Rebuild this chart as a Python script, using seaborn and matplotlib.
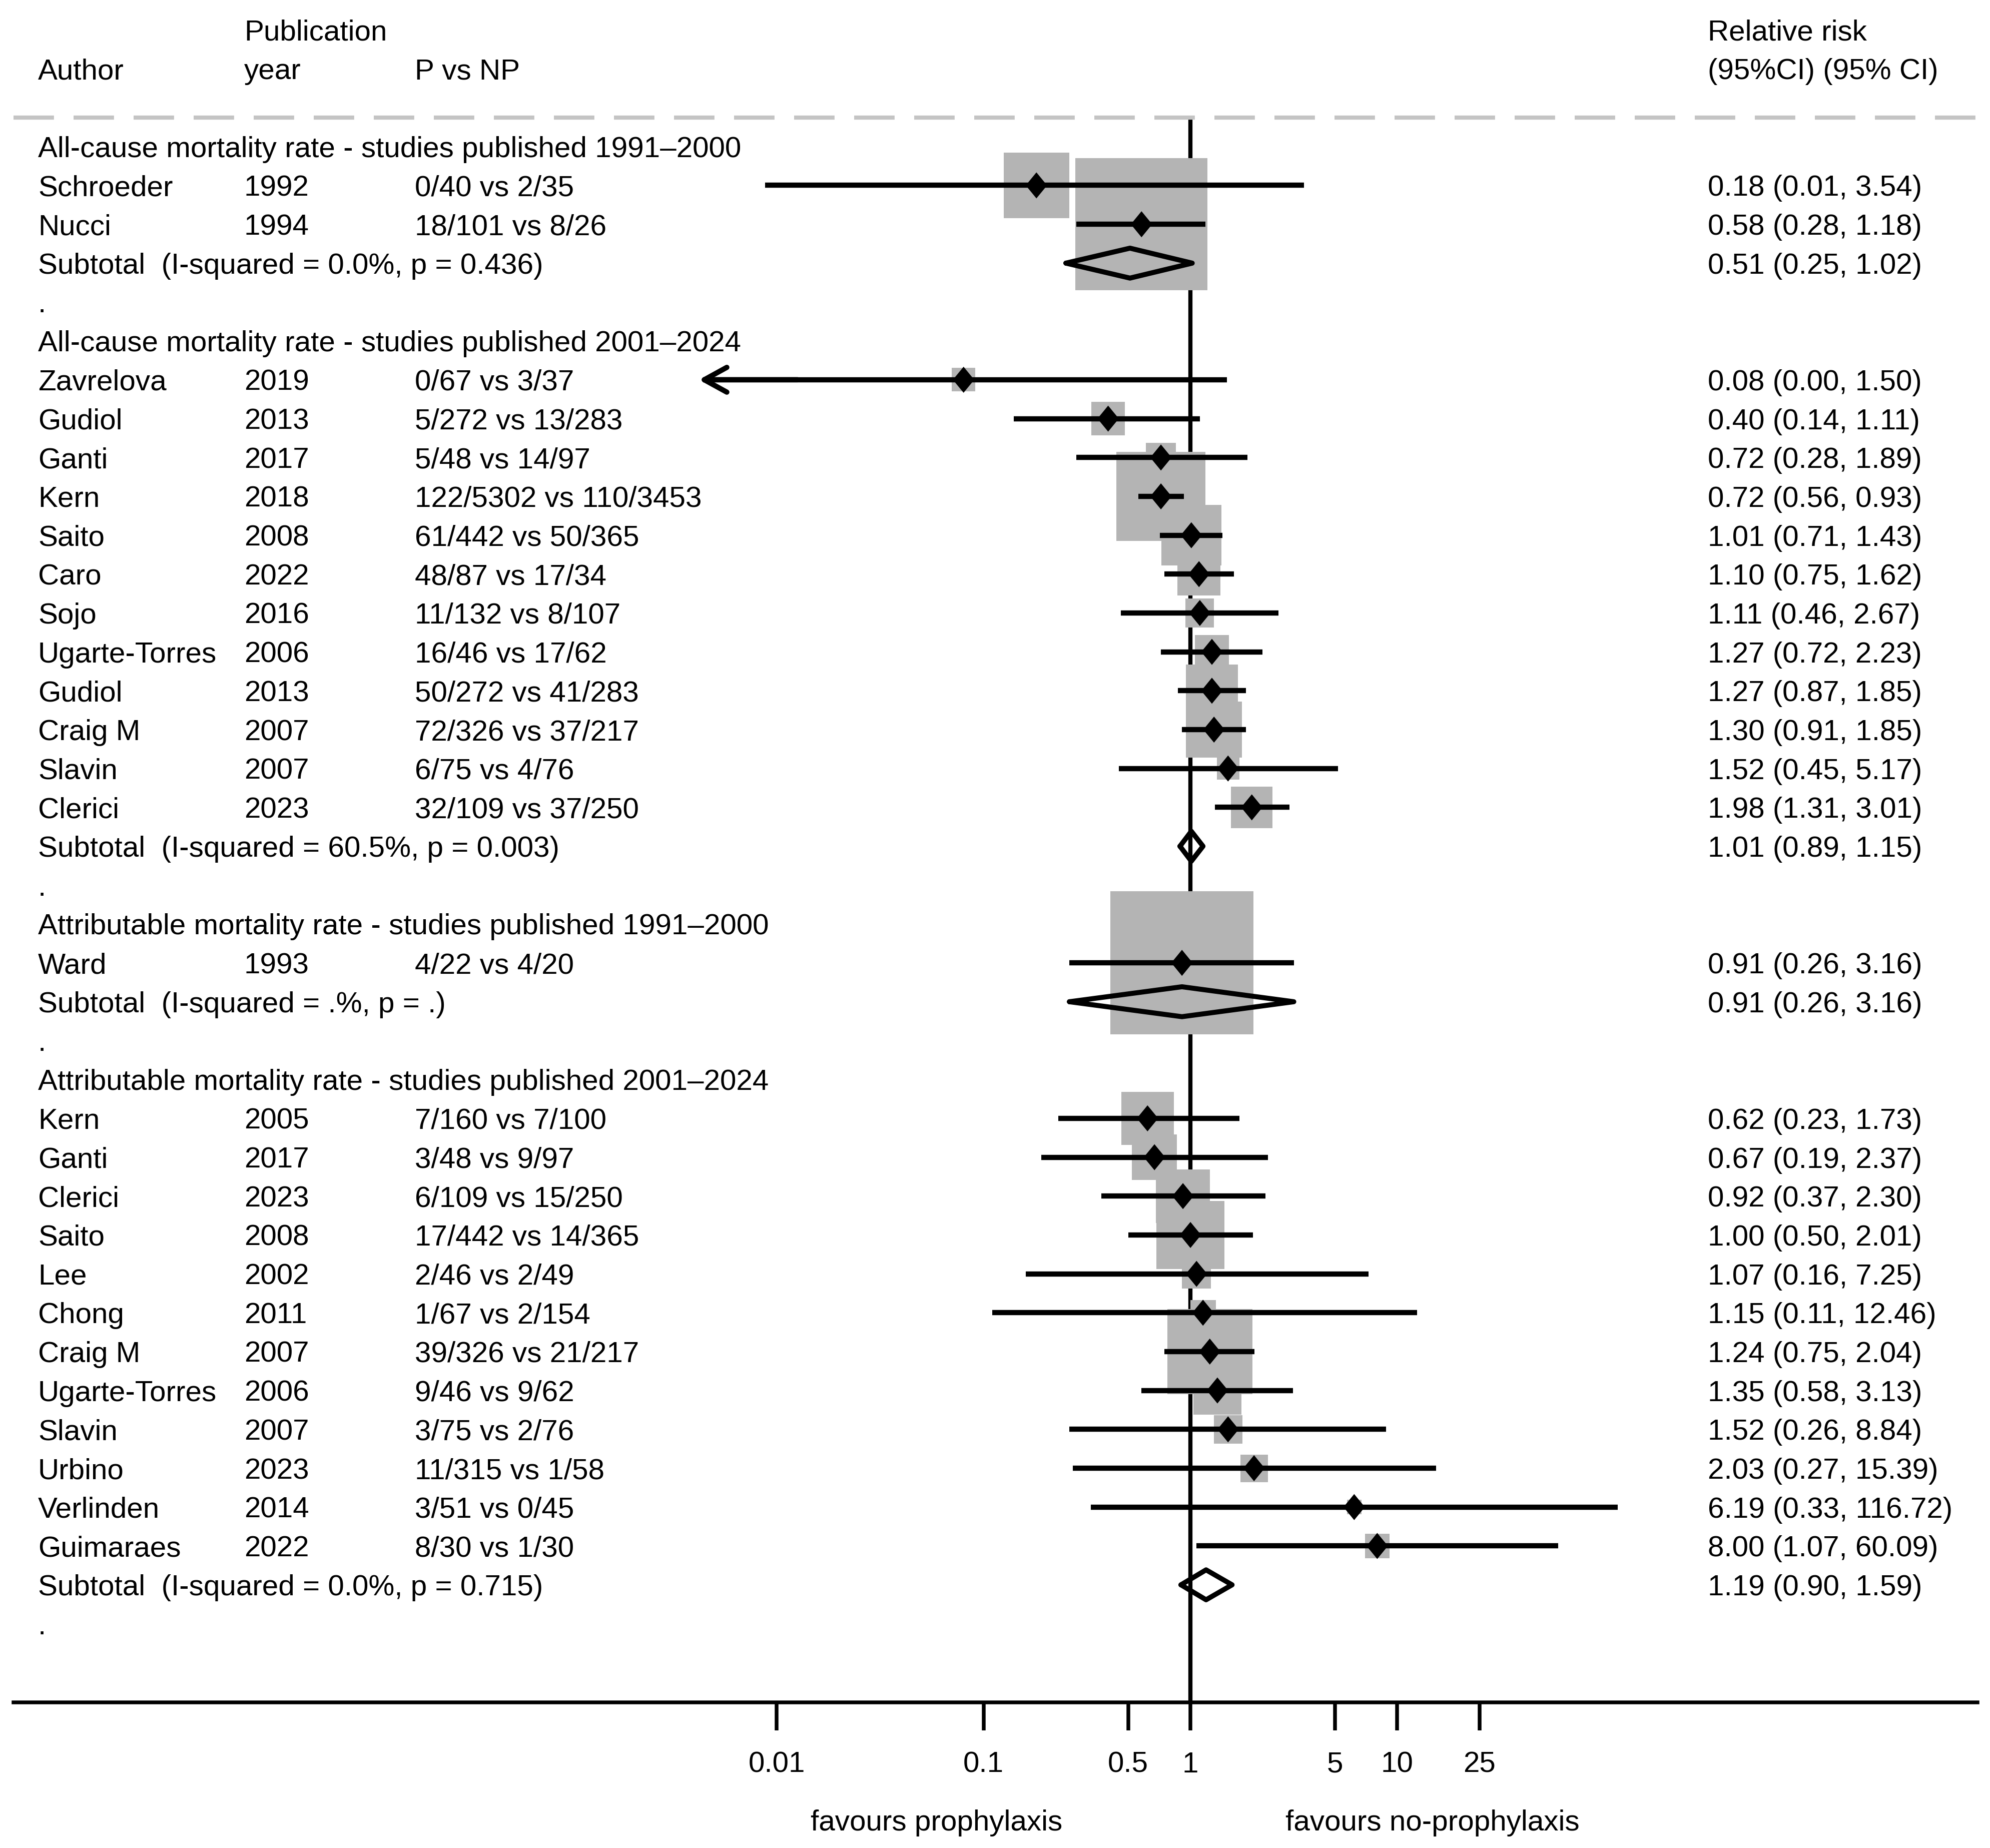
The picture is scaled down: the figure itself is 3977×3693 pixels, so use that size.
import numpy as np
import pandas as pd
import matplotlib
matplotlib.use("Agg")
import matplotlib.pyplot as plt
import seaborn as sns
from matplotlib.transforms import blended_transform_factory
from matplotlib.ticker import NullLocator

# ---------------- data ----------------
group_titles = [
    "All-cause mortality rate - studies published 1991\u20132000",
    "All-cause mortality rate - studies published 2001\u20132024",
    "Attributable mortality rate - studies published 1991\u20132000",
    "Attributable mortality rate - studies published 2001\u20132024",
]

study_group = [0, 0,
               1, 1, 1, 1, 1, 1, 1, 1, 1, 1, 1, 1,
               2,
               3, 3, 3, 3, 3, 3, 3, 3, 3, 3, 3, 3]
authors = ["Schroeder", "Nucci",
           "Zavrelova", "Gudiol", "Ganti", "Kern", "Saito", "Caro", "Sojo",
           "Ugarte-Torres", "Gudiol", "Craig M", "Slavin", "Clerici",
           "Ward",
           "Kern", "Ganti", "Clerici", "Saito", "Lee", "Chong", "Craig M",
           "Ugarte-Torres", "Slavin", "Urbino", "Verlinden", "Guimaraes"]
years = ["1992", "1994",
         "2019", "2013", "2017", "2018", "2008", "2022", "2016", "2006",
         "2013", "2007", "2007", "2023",
         "1993",
         "2005", "2017", "2023", "2008", "2002", "2011", "2007", "2006",
         "2007", "2023", "2014", "2022"]
events = ["0/40 vs 2/35", "18/101 vs 8/26",
          "0/67 vs 3/37", "5/272 vs 13/283", "5/48 vs 14/97",
          "122/5302 vs 110/3453", "61/442 vs 50/365", "48/87 vs 17/34",
          "11/132 vs 8/107", "16/46 vs 17/62", "50/272 vs 41/283",
          "72/326 vs 37/217", "6/75 vs 4/76", "32/109 vs 37/250",
          "4/22 vs 4/20",
          "7/160 vs 7/100", "3/48 vs 9/97", "6/109 vs 15/250",
          "17/442 vs 14/365", "2/46 vs 2/49", "1/67 vs 2/154",
          "39/326 vs 21/217", "9/46 vs 9/62", "3/75 vs 2/76",
          "11/315 vs 1/58", "3/51 vs 0/45", "8/30 vs 1/30"]
rr = [0.18, 0.58,
      0.08, 0.40, 0.72, 0.72, 1.01, 1.10, 1.11, 1.27, 1.27, 1.30, 1.52, 1.98,
      0.91,
      0.62, 0.67, 0.92, 1.00, 1.07, 1.15, 1.24, 1.35, 1.52, 2.03, 6.19, 8.00]
ci_lo = [0.0088, 0.28,
         0.00, 0.14, 0.28, 0.56, 0.71, 0.75, 0.46, 0.72, 0.87, 0.91, 0.45, 1.31,
         0.26,
         0.23, 0.19, 0.37, 0.50, 0.16, 0.11, 0.75, 0.58, 0.26, 0.27, 0.33, 1.07]
ci_hi = [3.54, 1.18,
         1.50, 1.11, 1.89, 0.93, 1.43, 1.62, 2.67, 2.23, 1.85, 1.85, 5.17, 3.01,
         3.16,
         1.73, 2.37, 2.30, 2.01, 7.25, 12.46, 2.04, 3.13, 8.84, 15.39, 116.72, 60.09]
weights = [21.0, 85.0,
           2.7, 5.5, 4.3, 38.5, 17.7, 9.1, 4.0, 5.7, 13.3, 15.2, 2.5, 8.5,
           100.0,
           13.6, 10.0, 14.1, 22.4, 4.1, 3.2, 35.4, 11.3, 4.0, 3.7, 1.0, 3.0]

subtotal_labels = ["Subtotal  (I-squared = 0.0%, p = 0.436)",
                   "Subtotal  (I-squared = 60.5%, p = 0.003)",
                   "Subtotal  (I-squared = .%, p = .)",
                   "Subtotal  (I-squared = 0.0%, p = 0.715)"]
subtotal_rr = [0.51, 1.01, 0.91, 1.19]
subtotal_lo = [0.25, 0.89, 0.26, 0.90]
subtotal_hi = [1.02, 1.15, 3.16, 1.59]

tick_values = [0.01, 0.1, 0.5, 1, 5, 10, 25]
tick_labels = ["0.01", "0.1", "0.5", "1", "5", "10", "25"]
left_note = "favours prophylaxis"
right_note = "favours no-prophylaxis"
x_clip_low = 0.0042  # lower end of the plotted range (arrow drawn beyond)

# ---------------- layout of rows ----------------
study_rows, sub_rows, head_rows, dot_rows = [], [], [], []
r = 0
for g in range(len(group_titles)):
    head_rows.append(r)
    r += 1
    for i, sg in enumerate(study_group):
        if sg == g:
            study_rows.append(r)
            r += 1
    sub_rows.append(r)
    r += 1
    dot_rows.append(r)
    r += 1

df = pd.DataFrame({"row": study_rows, "author": authors, "year": years,
                   "events": events, "rr": rr, "lo": ci_lo, "hi": ci_hi,
                   "weight": weights})
sub = pd.DataFrame({"row": sub_rows, "label": subtotal_labels, "rr": subtotal_rr,
                    "lo": subtotal_lo, "hi": subtotal_hi})

# ---------------- figure ----------------
sns.set_theme(style="white")
plt.rcParams["font.family"] = ["Liberation Sans", "DejaVu Sans"]
plt.rcParams["font.size"] = 14
FS = 14

fig = plt.figure(figsize=(3977 / 300, 3693 / 300), dpi=300)
ax = fig.add_axes([0, 0, 1, 1])

BOX_SCALE = (286 * 0.24) ** 2 / 100.0
sns.scatterplot(data=df, x="rr", y="row", marker="s",
                s=(df["weight"] * BOX_SCALE).to_numpy(),
                color="#b4b4b4", edgecolor="none", linewidth=0,
                zorder=2, legend=False, ax=ax)
diamond = [(0, 1), (0.82, 0), (0, -1), (-0.82, 0), (0, 1)]
sns.scatterplot(data=df, x="rr", y="row", marker=diamond, s=156,
                color="black", edgecolor="none", linewidth=0,
                zorder=4, legend=False, ax=ax)

ax.set_xscale("log")
XMIN_LOG, XMAX_LOG = -5.756, 3.866
ax.set_xlim(10 ** XMIN_LOG, 10 ** XMAX_LOG)
ax.set_ylim(43.77, -3.769)
ax.set_xlabel("")
ax.set_ylabel("")

AXIS_Y = 40.03
DASH_Y = -0.75
line_left, line_right = 10 ** -5.691, 10 ** 3.806

# reference line at 1
ax.vlines(1, DASH_Y, AXIS_Y, colors="black", linewidth=2.0, zorder=1)
# dashed separator
ax.plot([line_left, line_right], [DASH_Y, DASH_Y], color="#c4c4c4",
        linewidth=2.0, dashes=[9.7, 4.7], zorder=1, solid_capstyle="butt",
        dash_capstyle="butt")

# confidence intervals
for _, d in df.iterrows():
    lo = d["lo"]
    if lo < x_clip_low:
        ax.hlines(d["row"], x_clip_low * 1.05, d["hi"], colors="black",
                  linewidth=2.5, zorder=3)
        ax.annotate("", xy=(x_clip_low, d["row"]), xytext=(x_clip_low * 3, d["row"]),
                    arrowprops=dict(arrowstyle="->,head_length=0.4,head_width=0.22",
                                    lw=2.5, color="black", mutation_scale=27,
                                    shrinkA=0, shrinkB=0), zorder=3)
    else:
        ax.hlines(d["row"], lo, d["hi"], colors="black", linewidth=2.5, zorder=3)

# subtotal diamonds
H = 0.385
for _, s in sub.iterrows():
    xs = [s["lo"], s["rr"], s["hi"], s["rr"], s["lo"]]
    ys = [s["row"], s["row"] - H, s["row"], s["row"] + H, s["row"]]
    ax.plot(xs, ys, color="black", linewidth=2.4, zorder=4,
            solid_joinstyle="round")

# axis
for sp in ["top", "left", "right"]:
    ax.spines[sp].set_visible(False)
ax.spines["bottom"].set_position(("data", AXIS_Y))
ax.spines["bottom"].set_bounds(line_left, line_right)
ax.spines["bottom"].set_linewidth(1.8)
ax.spines["bottom"].set_color("black")
ax.set_xticks(tick_values)
ax.set_xticklabels(tick_labels)
ax.xaxis.set_minor_locator(NullLocator())
ax.tick_params(axis="x", which="major", bottom=True, direction="out",
               length=13.4, width=1.8, pad=10, labelsize=FS, colors="black")
ax.set_yticks([])
ax.grid(False)

# ---------------- text ----------------
tr = blended_transform_factory(ax.transAxes, ax.transData)
X_AUTH, X_YEAR, X_EV, X_RR = 0.0191, 0.1227, 0.2084, 0.8582
BL = 0.27  # baseline offset so caps are centred on the row


def put(x, row, s, **kw):
    ax.text(x, row + BL, s, transform=tr, ha="left", va="baseline",
            fontsize=FS, color="black", **kw)


put(X_YEAR, -3, "Publication")
put(X_RR, -3, "Relative risk")
put(X_AUTH, -2, "Author")
put(X_YEAR, -2, "year")
put(X_EV, -2, "P vs NP")
put(X_RR, -2, "(95%CI) (95% CI)")

for g, hr in enumerate(head_rows):
    put(X_AUTH, hr, group_titles[g])
for dr in dot_rows:
    put(X_AUTH, dr, ".")
for _, d in df.iterrows():
    put(X_AUTH, d["row"], d["author"])
    put(X_YEAR, d["row"], d["year"])
    put(X_EV, d["row"], d["events"])
    put(X_RR, d["row"], f"{d['rr']:.2f} ({d['lo']:.2f}, {d['hi']:.2f})")
for _, s in sub.iterrows():
    put(X_AUTH, s["row"], s["label"])
    put(X_RR, s["row"], f"{s['rr']:.2f} ({s['lo']:.2f}, {s['hi']:.2f})")

ax.text(0.4705, 43.32, left_note, transform=tr, ha="center", va="baseline",
        fontsize=FS, color="black")
ax.text(0.7199, 43.32, right_note, transform=tr, ha="center", va="baseline",
        fontsize=FS, color="black")

fig.savefig("out.png", dpi=300, facecolor="white")
